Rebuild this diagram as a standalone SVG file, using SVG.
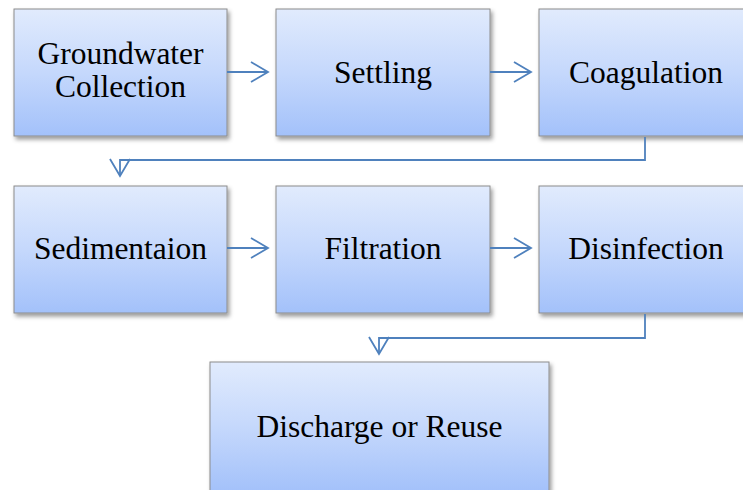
<svg xmlns="http://www.w3.org/2000/svg" width="743" height="490" viewBox="0 0 743 490">
<style>
.box{fill:url(#g);stroke:#8c8c8c;stroke-width:1;filter:url(#sh)}
.t{font-family:"Liberation Serif","Times New Roman",serif;font-size:31.5px;fill:#000;text-anchor:middle}
.c{fill:none;stroke:#4f81bd;stroke-width:1.8;marker-end:url(#ah)}
</style>
<defs>
<linearGradient id="g" x1="0" y1="0" x2="0" y2="1">
<stop offset="0" stop-color="#e1ebfd"/>
<stop offset="0.5" stop-color="#c5d8fc"/>
<stop offset="1" stop-color="#a3c1fa"/>
</linearGradient>
<filter id="sh" x="-10%" y="-10%" width="130%" height="130%">
<feDropShadow dx="2" dy="3" stdDeviation="2" flood-color="#000" flood-opacity="0.4"/>
</filter>
<marker id="ah" markerUnits="userSpaceOnUse" viewBox="0 0 20 22" refX="18" refY="11" markerWidth="20" markerHeight="22" orient="auto">
<path d="M1,1 L18,11 L1,21" fill="none" stroke="#4f81bd" stroke-width="1.8"/>
</marker>
</defs>
<g id="n1"><rect class="box" x="14" y="9" width="213" height="127"/><text class="t" x="120.5" y="64">Groundwater</text><text class="t" x="120.5" y="97">Collection</text></g>
<g id="n2"><rect class="box" x="276" y="9" width="214" height="127"/><text class="t" x="383" y="83">Settling</text></g>
<g id="n3"><rect class="box" x="539" y="9" width="214" height="127"/><text class="t" x="646" y="83">Coagulation</text></g>
<g id="n4"><rect class="box" x="14" y="186" width="213" height="127"/><text class="t" x="120.5" y="259">Sedimentaion</text></g>
<g id="n5"><rect class="box" x="276" y="186" width="214" height="127"/><text class="t" x="383" y="259">Filtration</text></g>
<g id="n6"><rect class="box" x="539" y="186" width="214" height="127"/><text class="t" x="646" y="259">Disinfection</text></g>
<g id="n7"><rect class="box" x="210" y="362" width="339" height="130"/><text class="t" x="379.5" y="437">Discharge or Reuse</text></g>
<g id="connectors">
<path class="c" d="M227,72 H268"/>
<path class="c" d="M490,72 H531"/>
<path class="c" d="M645,137 V160 H120 V176"/>
<path class="c" d="M227,248 H268"/>
<path class="c" d="M490,248 H531"/>
<path class="c" d="M645,314 V338 H379 V354"/>
</g>
</svg>
